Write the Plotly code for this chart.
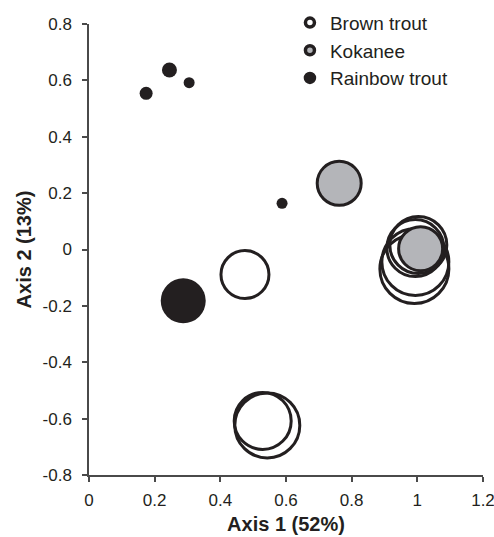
import plotly.graph_objects as go

# ---- data ----
brown_x = [1.003, 0.994, 0.994, 0.991, 0.475, 0.529, 0.543]
brown_y = [0.016, 0.005, -0.044, -0.069, -0.089, -0.608, -0.624]
brown_size = [57, 57, 67, 69, 48, 57, 65]

kokanee_x = [0.762, 1.010]
kokanee_y = [0.235, 0.003]
kokanee_size = [44, 44]

rainbow_x = [0.174, 0.245, 0.305, 0.588, 0.287]
rainbow_y = [0.554, 0.637, 0.592, 0.164, -0.182]
rainbow_size = [13, 15, 11, 11, 45]

series_names = ["Brown trout", "Kokanee", "Rainbow trout"]

x_ticks = [0, 0.2, 0.4, 0.6, 0.8, 1, 1.2]
x_tick_labels = ["0", "0.2", "0.4", "0.6", "0.8", "1", "1.2"]
y_ticks = [-0.8, -0.6, -0.4, -0.2, 0, 0.2, 0.4, 0.6, 0.8]
y_tick_labels = ["-0.8", "-0.6", "-0.4", "-0.2", "0", "0.2", "0.4", "0.6", "0.8"]

BLACK = "#231f20"
GRAY = "#b4b5b9"
FONT = "Liberation Sans, Arial, Helvetica, sans-serif"

fig = go.Figure()

# data traces (no legend)
fig.add_trace(go.Scatter(
    x=brown_x, y=brown_y, mode="markers", showlegend=False, name=series_names[0],
    marker=dict(size=brown_size, color="rgba(255,255,255,0)", opacity=1,
                line=dict(color=BLACK, width=3))))
fig.add_trace(go.Scatter(
    x=kokanee_x, y=kokanee_y, mode="markers", showlegend=False, name=series_names[1],
    marker=dict(size=kokanee_size, color=GRAY, opacity=1,
                line=dict(color=BLACK, width=3))))
fig.add_trace(go.Scatter(
    x=rainbow_x, y=rainbow_y, mode="markers", showlegend=False, name=series_names[2],
    marker=dict(size=rainbow_size, color=BLACK, opacity=1,
                line=dict(color=BLACK, width=0))))

# legend entries
legend_fill = ["white", GRAY, BLACK]
for name, fillc in zip(series_names, legend_fill):
    fig.add_trace(go.Scatter(
        x=[None], y=[None], mode="markers", name=name,
        marker=dict(size=9, color=fillc, opacity=1, line=dict(color=BLACK, width=3.5))))

axis_common = dict(
    showgrid=False, zeroline=False, showline=True, linecolor="#4a4a4a", linewidth=1.5,
    ticks="outside", ticklen=5, tickwidth=1.5, tickcolor="#4a4a4a",
    tickfont=dict(family=FONT, size=17, color=BLACK),
    mirror=False, automargin=False, ticklabeloverflow="allow",
)

fig.update_layout(
    width=494, height=537,
    margin=dict(l=89, r=11, t=24, b=62, autoexpand=False),
    paper_bgcolor="white", plot_bgcolor="white",
    font=dict(family=FONT, color=BLACK),
    xaxis=dict(range=[0, 1.2], tickvals=x_ticks, ticktext=x_tick_labels,
               ticklabelstandoff=4,
               title=dict(text="<b>Axis 1 (52%)</b>", font=dict(family=FONT, size=20, color=BLACK),
                          standoff=8),
               **axis_common),
    yaxis=dict(range=[-0.8, 0.8], tickvals=y_ticks, ticktext=y_tick_labels,
               ticklabelstandoff=7,
               title=dict(text="<b>Axis 2 (13%)</b>", font=dict(family=FONT, size=20, color=BLACK),
                          standoff=6),
               **axis_common),
    legend=dict(x=0.51, y=1.045, xanchor="left", yanchor="top",
                font=dict(family=FONT, size=19, color=BLACK),
                bgcolor="rgba(0,0,0,0)", borderwidth=0, tracegroupgap=0,
                itemsizing="trace"),
)

# remove the default page margin so the figure fills the window exactly
fig.write_html(
    "out.html",
    config={"displayModeBar": False},
    post_script="document.body.style.margin='0';document.body.style.overflow='hidden';"
                "document.documentElement.style.overflow='hidden';",
)
